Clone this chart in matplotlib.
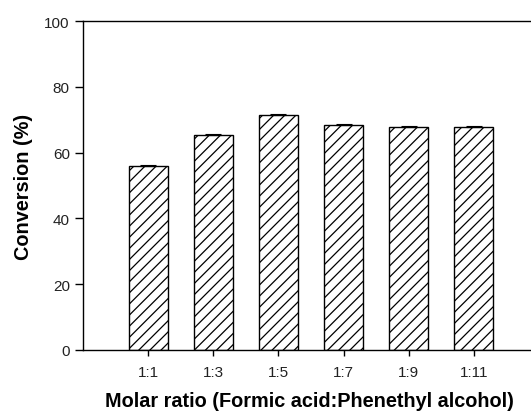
import matplotlib
matplotlib.use("Agg")
import matplotlib.pyplot as plt
import numpy as np

plt.rcParams['font.family'] = ['Liberation Sans', 'DejaVu Sans']
plt.rcParams['hatch.linewidth'] = 0.9

ratios = ["1:1", "1:3", "1:5", "1:7", "1:9", "1:11"]
conversion = [56.0, 65.3, 71.4, 68.4, 67.9, 67.7]
errors = [0.3, 0.3, 0.3, 0.4, 0.3, 0.3]

fig = plt.figure(figsize=(5.31, 4.14), dpi=100)
ax = fig.add_axes([83 / 531, 1 - 351 / 414, (539 - 83) / 531, (351 - 22) / 414])

x = np.arange(1, len(ratios) + 1)
ax.bar(x, conversion, width=0.6, color='white', edgecolor='black',
       linewidth=1.0, hatch='///', zorder=2)
ax.errorbar(x, conversion, yerr=[[0] * len(errors), errors], fmt='none',
            ecolor='black', elinewidth=0.8, capsize=6, capthick=0.8, zorder=3)

ax.set_xlim(0, 7)
ax.set_ylim(0, 100)
ax.set_xticks(x)
ax.set_xticklabels(ratios, fontsize=11, color='#222222')
ax.set_yticks(range(0, 101, 20))
ax.tick_params(axis='y', labelsize=11, labelcolor='#222222', length=6, width=1,
               direction='out')
ax.tick_params(axis='x', length=4, width=1, direction='out', pad=7)

ax.spines['right'].set_visible(False)
for s in ['left', 'top', 'bottom']:
    ax.spines[s].set_linewidth(1.0)

ax.set_ylabel("Conversion (%)", fontsize=14.3, fontweight='bold', labelpad=8)
ax.set_xlabel("Molar ratio (Formic acid:Phenethyl alcohol)", fontsize=14.3,
              fontweight='bold')
ax.xaxis.set_label_coords((309 - 83) / (539 - 83), -(392 - 351) / (351 - 22))

fig.savefig("out.png", dpi=100)
